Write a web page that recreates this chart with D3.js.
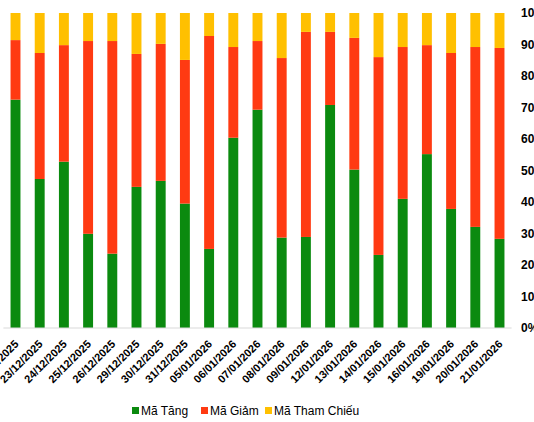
<!DOCTYPE html>
<html>
<head>
<meta charset="utf-8">
<script src="https://cdn.jsdelivr.net/npm/d3@7/dist/d3.min.js"></script>
<style>
  html, body { margin: 0; padding: 0; background: #fff; overflow: hidden; }
  svg { display: block; }
  text { font-family: "Liberation Sans", Arial, sans-serif; }
</style>
</head>
<body>
<svg id="chart" width="534" height="422"></svg>
<script>
const dates = ["22/12/2025","23/12/2025","24/12/2025","25/12/2025","26/12/2025","29/12/2025","30/12/2025","31/12/2025","05/01/2026","06/01/2026","07/01/2026","08/01/2026","09/01/2026","12/01/2026","13/01/2026","14/01/2026","15/01/2026","16/01/2026","19/01/2026","20/01/2026","21/01/2026"];
// percentages
const maTang = [72.5, 47.3, 52.8, 29.9, 23.6, 44.8, 46.7, 39.5, 25.1, 60.4, 69.3, 28.7, 28.9, 70.8, 50.3, 23.2, 41.0, 55.2, 37.8, 32.1, 28.3];
const maGiam = [18.9, 40.0, 37.0, 61.2, 67.5, 42.2, 43.5, 45.6, 67.6, 28.8, 21.8, 57.0, 65.1, 23.2, 41.8, 62.8, 48.2, 34.6, 49.5, 57.1, 60.6];
const maThamChieu = [8.6, 12.7, 10.2, 8.9, 8.9, 13.0, 9.8, 14.9, 7.3, 10.8, 8.9, 14.3, 6.0, 6.0, 7.9, 14.0, 10.8, 10.2, 12.7, 10.8, 11.1];
const seriesNames = ["Mã Tăng", "Mã Giảm", "Mã Tham Chiếu"];
const seriesColors = ["#0B8A0F", "#FF3A12", "#FFC000"];
const yTicks = [0, 10, 20, 30, 40, 50, 60, 70, 80, 90, 100];

const rows = dates.map((d, i) => ({date: d, tang: maTang[i], giam: maGiam[i], tc: maThamChieu[i]}));
const keys = ["tang", "giam", "tc"];
const stack = d3.stack().keys(keys).offset(d3.stackOffsetExpand);
const stacked = stack(rows);

const svg = d3.select("#chart");
const x = d3.scaleBand().domain(dates).range([3.4, 511.6]).paddingInner(0.59).paddingOuter(0.295);
const y = d3.scaleLinear().domain([0, 1]).range([328, 13]);

// bars
svg.append("g").selectAll("g").data(stacked).join("g")
  .attr("fill", (d, i) => seriesColors[i])
  .selectAll("rect").data(d => d).join("rect")
  .attr("x", d => x(d.data.date))
  .attr("width", x.bandwidth())
  .attr("y", d => y(d[1]))
  .attr("height", d => y(d[0]) - y(d[1]));

// x axis line
svg.append("line")
  .attr("x1", x.range()[0]).attr("x2", x.range()[1])
  .attr("y1", y(0)).attr("y2", y(0))
  .attr("stroke", "#d9d9d9").attr("stroke-width", 1);

// x labels
svg.append("g").selectAll("text").data(dates).join("text")
  .attr("transform", d => `translate(${x(d) + x.bandwidth() / 2 + 1},${342}) rotate(-45)`)
  .attr("text-anchor", "end")
  .attr("dy", "0.35em")
  .attr("font-size", 11)
  .attr("font-weight", "bold")
  .attr("fill", "#000")
  .text(d => d);

// y axis (right)
const yAxis = d3.axisRight(y).tickValues(yTicks.map(v => v / 100)).tickFormat(v => Math.round(v * 100) + "%").tickSize(0).tickPadding(0);
const ya = svg.append("g").attr("transform", "translate(521,0)").call(yAxis);
ya.select(".domain").remove();
ya.selectAll("text").attr("font-size", 12).attr("font-weight", "bold").attr("fill", "#000")
  .attr("font-family", "'Liberation Sans', Arial, sans-serif");

// legend
const legendX = [132, 201, 265];
const lg = svg.append("g");
seriesNames.forEach((name, i) => {
  lg.append("rect").attr("x", legendX[i]).attr("y", 407).attr("width", 7).attr("height", 7).attr("fill", seriesColors[i]);
  lg.append("text").attr("x", legendX[i] + 9).attr("y", 415).attr("font-size", 12).attr("fill", "#000").text(name);
});
</script>
</body>
</html>
